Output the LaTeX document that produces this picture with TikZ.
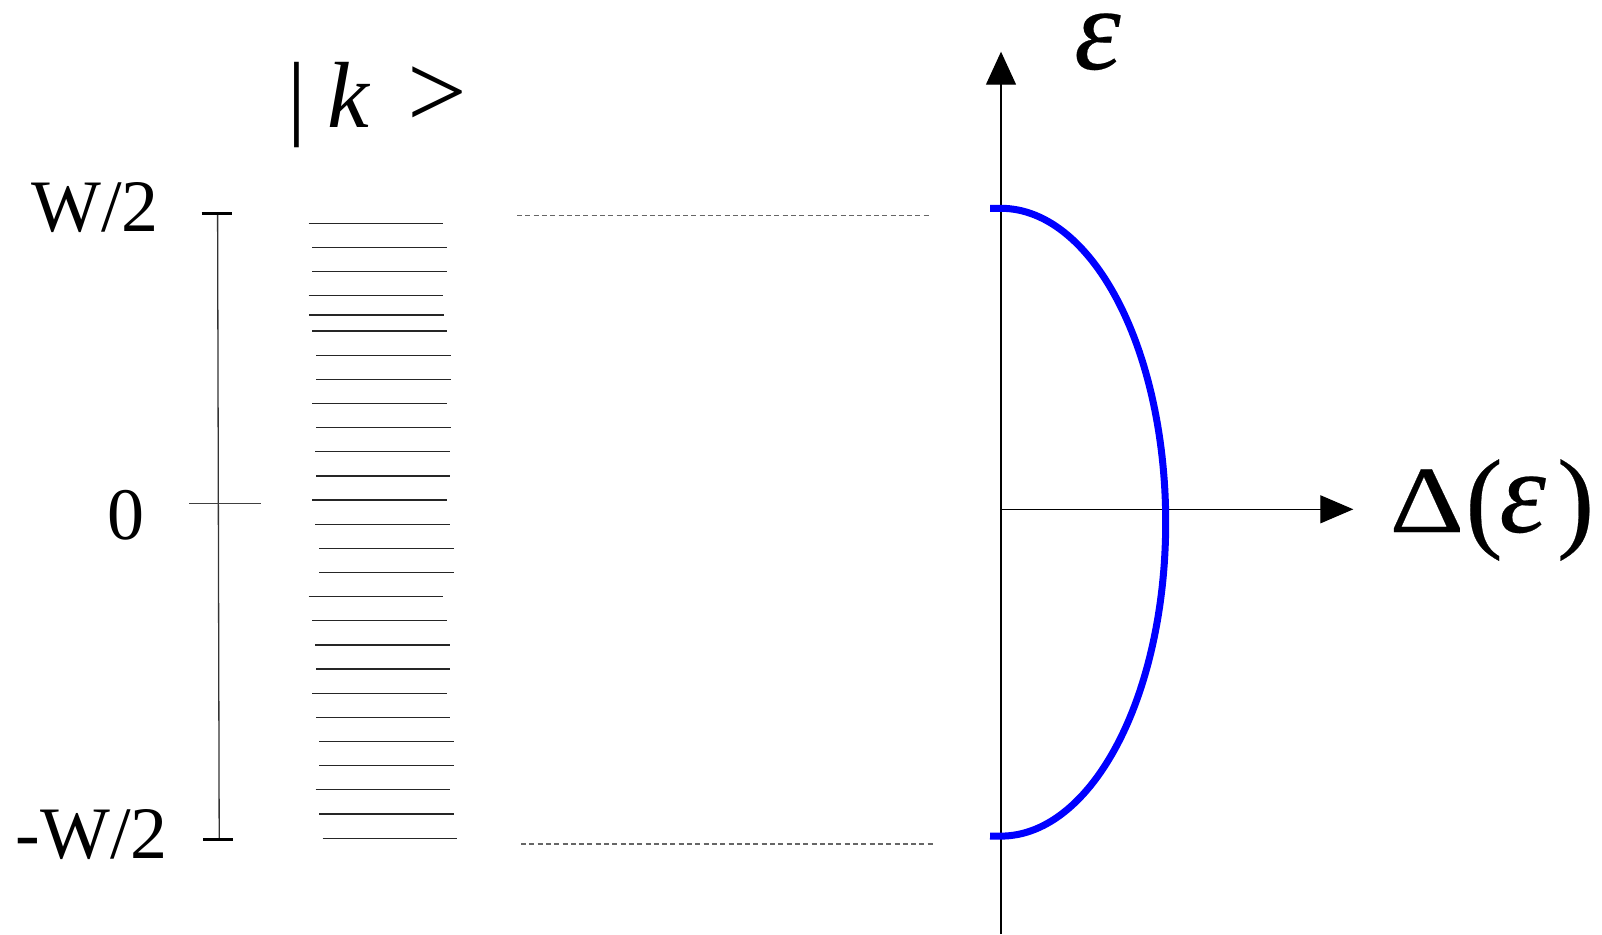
\documentclass[tikz,border=0pt]{standalone}
\usepackage{graphicx}
\usepackage{fontspec}
\setmainfont{Liberation Serif}
\usetikzlibrary{arrows.meta}
\newcommand{\fs}[1]{\fontsize{#1}{#1}\selectfont}
\newcommand{\heavy}{\addfontfeature{FakeBold=0.2}}
\begin{document}
\begin{tikzpicture}[x=1pt,y=-1pt,
  level/.style={line width=1.3pt, black!85},
  scaleline/.style={line width=1.3pt, black!80},
  bigtick/.style={line width=3.5pt, black},
  smalltick/.style={line width=1.2pt, black!75},
  guide/.style={line width=1.2pt, black!60, dash pattern=on 5pt off 3.3pt},
  axis/.style={line width=1.3pt, black},
  dos/.style={line width=7pt, blue, line join=round},
  lbl/.style={inner sep=0pt, anchor=base east, font=\fs{74}}]
\useasboundingbox (0,0) rectangle (1602,934);
% energy levels
\foreach \y/\a/\b in {223.3/308.7/443.3, 247.3/312/446.7, 271.3/312/446.7, 295.7/308.7/443.3,
  315/309/443.7, 331/312.3/446.7, 355.3/316/450.7, 379.3/316/450.7, 403.3/312.3/446.7,
  427.7/316/450.7, 451.7/315.3/450.3, 476/316/450.3, 500/312/446.7, 524.3/315.3/450,
  548.3/319/453.7, 572.7/319/453.7, 596.7/308.7/443.3, 620.7/312/446.7, 645/315.3/450.3,
  669/316/450.3, 693.3/312/446.7, 717.3/316/450.3, 741.7/319/453.7, 765.7/319/453.7,
  789.7/315.7/450, 814/319/453.7, 838.3/322.7/457}
  \draw[level] (\a,\y) -- (\b,\y);
% scale
\coordinate (st) at (217.6,213.3);
\coordinate (sb) at (219.2,839.3);
\draw[scaleline] (st) -- (sb);
\draw[bigtick] (201.7,213.3) -- (231.7,213.3);
\draw[bigtick] (203,839.3) -- (233,839.3);
\draw[smalltick] (189,503.7) -- (261,503.7);
\node[lbl] (wtop) at (159,231) {W/2};
\node[lbl] (zero) at (145,539) {0};
\node[lbl] (wbot) at (168,858) {-W/2};
\node[inner sep=0pt, anchor=base west, font=\fs{94}] (ket) at (287,127)
  {|\hspace{21pt}\textit{k}\hspace{37pt}{\fs{106}>}};
% guide lines
\coordinate (g1a) at (517,215.7); \coordinate (g1b) at (930,215.7);
\coordinate (g2a) at (521,844); \coordinate (g2b) at (935,844);
\draw[guide] (g1a) -- (g1b);
\draw[guide] (g2a) -- (g2b);
% axes
\coordinate (o) at (1001,509.3);
\coordinate (ybot) at (1001,934);
\coordinate (ytop) at (1001,51.7);
\coordinate (xend) at (1353.3,509.3);
\draw[axis, -{Triangle[length=33pt,width=30pt]}] (ybot) -- (ytop);
\draw[axis, -{Triangle[length=33pt,width=28pt]}] (o) -- (xend);
\node[inner sep=0pt, anchor=base west, font=\fs{118}\heavy] (eps) at (1074,69) {\textit{ε}};
\node[inner sep=0pt, anchor=base west, font=\fs{100}\heavy] (delta) at (1389.4,532)
  {\scalebox{1.16}[0.95]{Δ}\hspace{1.2pt}{\fs{112}\raisebox{-5pt}{(}}\hspace{-3.3pt}{\fs{118}\textit{ε}}\hspace{11pt}{\fs{112}\raisebox{-5pt}{)}}};
% density of states
\draw[dos] (990,208.3) -- plot[domain=-90:90, samples=121] ({1001+164.7*cos(\x)},{522.2+313.9*sin(\x)}) -- (990,836);
\end{tikzpicture}
\end{document}
